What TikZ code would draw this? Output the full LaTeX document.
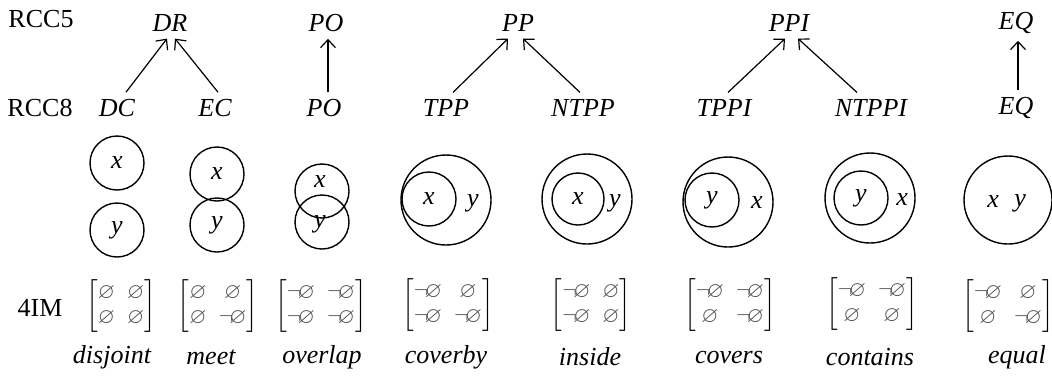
\documentclass[tikz,border=0pt]{standalone}
\usepackage{amsmath,amssymb}
\usepackage{fontspec}
\setmainfont{Liberation Serif}
\usetikzlibrary{arrows.meta}
\newcommand{\es}{\color{black!70}\varnothing}
\newcommand{\nes}{\color{black!70}\neg\!\varnothing}
\tikzset{
  rel/.style={font=\fontsize{13}{15}\selectfont\itshape},
  region/.style={circle, draw, line width=0.7pt, inner sep=0pt, minimum size=27pt},
  bigregion/.style={region, minimum size=45pt},
  im/.style={font=\fontsize{11}{13}\selectfont, inner sep=0pt},
  up/.style={-{Straight Barb[length=4pt, width=7.5pt]}, line width=0.6pt}
}
\begin{document}
\begin{tikzpicture}[x=0.5pt, y=-0.5pt, font=\fontsize{13}{15}\selectfont]
\setlength{\arraycolsep}{3pt}
\renewcommand{\arraystretch}{0.95}
\useasboundingbox (0,0) rectangle (1052,377);
\node (rcc5) at (41,19){RCC5};
\node (rcc8) at (40,108){RCC8};
\node[rel] (dr) at (170,23){DR};
\node[rel] (po5) at (326,23){PO};
\node[rel] (pp) at (518,23){PP};
\node[rel] (ppi) at (789,23){PPI};
\node[rel] (eq5) at (1016,23){EQ};
\node[rel] (dc) at (117,108){DC};
\node[rel] (ec) at (215,108){EC};
\node[rel] (po8) at (324,108){PO};
\node[rel] (tpp) at (446,108){TPP};
\node[rel] (ntpp) at (583,108){NTPP};
\node[rel] (tppi) at (724,108){TPPI};
\node[rel] (ntppi) at (871,108){NTPPI};
\node[rel] (eq8) at (1016,108){EQ};
\draw[up] ([xshift=4.5pt]dc.north) -- ([xshift=-1.5pt]dr.south);
\draw[up] ([xshift=1.5pt]ec.north) -- ([xshift=2.5pt]dr.south);
\draw[up] ([xshift=2pt]po8.north) -- ([xshift=1pt]po5.south);
\draw[up] ([xshift=3.5pt]tpp.north) -- ([xshift=-5pt]pp.south);
\draw[up] ([xshift=-1.5pt]ntpp.north) -- ([xshift=2.5pt]pp.south);
\draw[up] ([xshift=2pt]tppi.north) -- ([xshift=-2pt]ppi.south);
\draw[up] ([xshift=-7pt]ntppi.north) -- ([xshift=4.5pt]ppi.south);
\draw[up] ([xshift=1pt]eq8.north) -- ([xshift=1pt]eq5.south);
\node[region, rel] (djx) at (117,163){x};
\node[region, rel] (djy) at (117,230){y};
\node[region, rel] (mtx) at (217,174){x};
\node[region, rel] (mty) at (217,225){y};
\node[region] (ovx) at (322,191){};
\node[region] (ovy) at (322,222){};
\node[rel] (ovxl) at (320,182){x};
\node[rel] (ovyl) at (320,224){y};
\node[bigregion] (cbout) at (446,200){};
\node[region, rel] (cbin) at (429,199){x};
\node[rel] (cbyl) at (473,203){y};
\node[bigregion] (inout) at (587,199){};
\node[region, minimum size=26pt, rel] (inin) at (578,199){x};
\node[rel] (inyl) at (615,203){y};
\node[bigregion] (cvout) at (728,202){};
\node[region, rel] (cvin) at (712,200){y};
\node[rel] (cvxl) at (757,203){x};
\node[bigregion] (ctout) at (870,198){};
\node[region, rel] (ctin) at (861,198){y};
\node[rel] (ctxl) at (902,200){x};
\node[bigregion, minimum size=44pt] (eqc) at (1008,200){};
\node[rel] (eqxl) at (993,202){x};
\node[rel] (eqyl) at (1020,203){y};
\node (im4) at (40,308){4IM};
\node[im] (m1) at (121,306){$\begin{bmatrix}\es & \es\\ \es & \es\end{bmatrix}$};
\node[im] (m2) at (218,306){$\begin{bmatrix}\es & \es\\ \es & \nes\end{bmatrix}$};
\node[im] (m3) at (321,306){$\begin{bmatrix}\nes & \nes\\ \nes & \nes\end{bmatrix}$};
\node[im] (m4) at (448,305){$\begin{bmatrix}\nes & \es\\ \nes & \nes\end{bmatrix}$};
\node[im] (m5) at (591,305){$\begin{bmatrix}\nes & \es\\ \nes & \es\end{bmatrix}$};
\node[im] (m6) at (730,305){$\begin{bmatrix}\nes & \nes\\ \es & \nes\end{bmatrix}$};
\node[im] (m7) at (872,304){$\begin{bmatrix}\nes & \nes\\ \es & \es\end{bmatrix}$};
\node[im] (m8) at (1008,306){$\begin{bmatrix}\nes & \es\\ \es & \nes\end{bmatrix}$};
\node[rel] (n1) at (112,357){disjoint};
\node[rel] (n2) at (211,357){meet};
\node[rel] (n3) at (322,357){overlap};
\node[rel] (n4) at (446,357){coverby};
\node[rel] (n5) at (590,357){inside};
\node[rel] (n6) at (729,357){covers};
\node[rel] (n7) at (870,357){contains};
\node[rel] (n8) at (1017,357){equal};
\end{tikzpicture}
\end{document}
